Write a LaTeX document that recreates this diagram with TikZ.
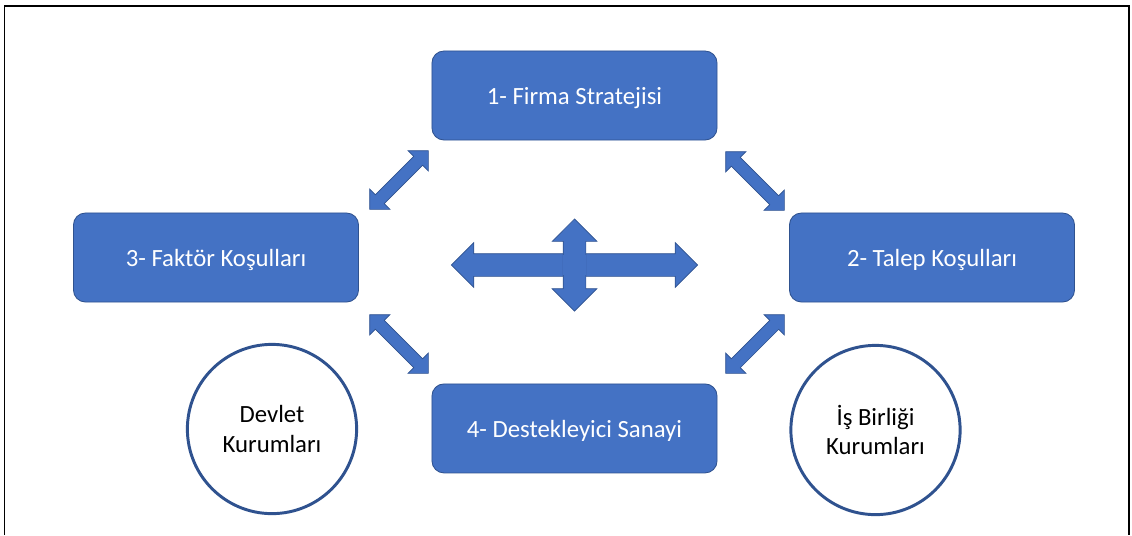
\documentclass[tikz,border=0pt]{standalone}
\usepackage{fontspec}
\setmainfont{Carlito}
\usetikzlibrary{shapes.arrows, positioning}
\definecolor{boxfill}{HTML}{4472C4}
\definecolor{boxline}{HTML}{2F528F}

\begin{document}
\begin{tikzpicture}[
x = 0.025cm, y = -0.025cm,
node distance = 6.075cm and 6mm,
   box/.style = {draw=boxline, line width=0.6pt, fill=boxfill, rounded corners=0.3cm,
                 minimum width=7.125cm, minimum height=2.225cm, align=center,
                 text=white, text depth=0pt, font=\fontsize{17.6}{21}\selectfont},
  circ/.style = {circle, draw=boxline, line width=2.1pt, fill=white,
                 minimum size=4.23cm, align=center, font=\fontsize{17.6}{21}\selectfont},
   dbl/.style = {double arrow, draw=boxline, line width=0.5pt, fill=boxfill,
                 inner xsep=0pt, inner ysep=0.15cm, double arrow head extend=0.2cm,
                 minimum height=2.075cm},
  bigx/.style = {dbl, inner ysep=0.275cm, double arrow head extend=0.275cm},
         ]
\useasboundingbox (0,0) rectangle (1132,535);
% frame
\draw[line width=0.9pt] (4.5,535) -- (4.5,6) -- (1129,6) -- (1129,535);
\draw[line width=2pt] (4,6) -- (1129.5,6);

\node (n1)  [box] at (574.5,95.5)  {1- Firma Stratejisi};
\node (n4)  [box, below=of n1]     {4- Destekleyici Sanayi};
\node (n3)  [box] at (216,257.5)   {3- Faktör Koşulları};
\node (n2)  [box] at (932,257.5)   {2- Talep Koşulları};

\node (c1)  [circ] at (272,429)    {Devlet\\Kurumları};
\node (c2)  [circ] at (875.5,430)  {İş Birliği\\Kurumları};

% diagonal arrows
\node (a13) [dbl, rotate=45]  at (399,180) {};
\node (a12) [dbl, rotate=-45] at (755,181) {};
\node (a34) [dbl, rotate=-45] at (399,344) {};
\node (a24) [dbl, rotate=45]  at (755,344) {};

% centre cross
\node (hx)  [bigx, minimum height=6.15cm]           at (574.5,265) {};
\node (vx)  [bigx, minimum height=2.3cm, rotate=90] at (574.5,265) {};
\fill[boxfill] ([shift={(-11.6,-10.4)}]vx.center) rectangle ([shift={(11.6,10.4)}]vx.center);
\end{tikzpicture}
\end{document}
